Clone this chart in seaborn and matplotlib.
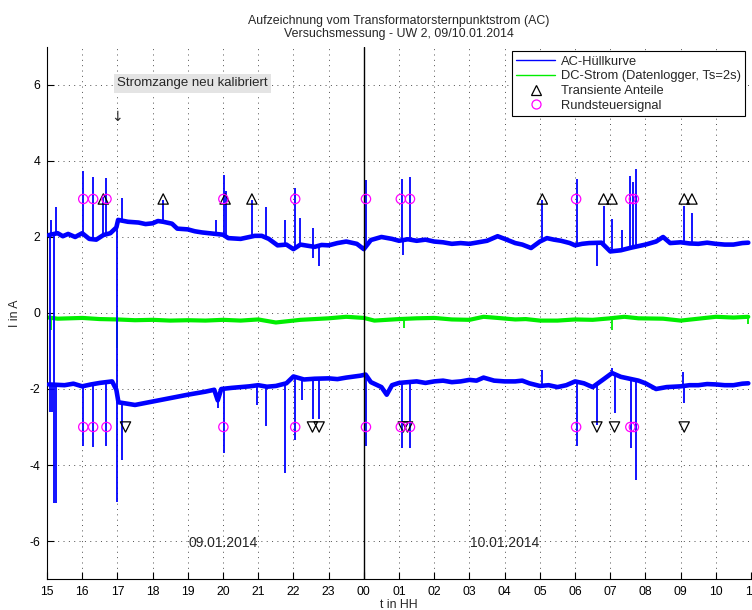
import numpy as np
import pandas as pd
import matplotlib
matplotlib.use("Agg")
import matplotlib.pyplot as plt
from matplotlib.lines import Line2D
import seaborn as sns

# --- time axis: hours since 09.01.2014 00:00 (24 = midnight) ---
tick_hours = list(range(15, 36))
tick_labels = ["15", "16", "17", "18", "19", "20", "21", "22", "23", "00",
               "01", "02", "03", "04", "05", "06", "07", "08", "09", "10", "11"]
midnight = 24.0

# AC envelope, upper branch (baseline samples)
upper_t = [15.05, 15.3, 15.45, 15.6, 15.8, 16.0, 16.2, 16.4, 16.6, 16.8, 16.97, 17.02,
           17.3, 17.6, 17.8, 18.0, 18.15, 18.3, 18.55, 18.7, 19.0, 19.2, 19.4, 19.6,
           19.8, 20.0, 20.15, 20.5, 20.7, 20.9, 21.1, 21.3, 21.55, 21.8, 22.0, 22.2,
           22.4, 22.6, 22.8, 23.0, 23.25, 23.5, 23.8, 24.0, 24.2, 24.5, 24.8, 25.0,
           25.25, 25.5, 25.75, 26.0, 26.25, 26.5, 26.75, 27.0, 27.25, 27.5, 27.8,
           28.0, 28.3, 28.5, 28.75, 29.0, 29.2, 29.4, 29.6, 29.85, 30.0, 30.2, 30.4,
           30.75, 31.0, 31.3, 31.6, 31.8, 32.0, 32.3, 32.5, 32.7, 33.0, 33.25, 33.5,
           33.75, 34.0, 34.25, 34.5, 34.75, 34.92]
upper_v = [2.05, 2.1, 2.02, 2.08, 2.0, 2.1, 1.95, 1.93, 2.05, 2.1, 2.25, 2.45,
           2.4, 2.38, 2.34, 2.36, 2.42, 2.4, 2.35, 2.22, 2.2, 2.15, 2.12, 2.1,
           2.08, 2.06, 1.97, 1.95, 1.99, 2.03, 2.03, 1.95, 1.78, 1.8, 1.68, 1.8,
           1.77, 1.74, 1.79, 1.78, 1.84, 1.88, 1.82, 1.68, 1.92, 2.0, 1.95, 1.9,
           1.94, 1.9, 1.93, 1.88, 1.86, 1.82, 1.84, 1.82, 1.86, 1.9, 2.02,
           1.95, 1.84, 1.8, 1.71, 1.88, 1.97, 1.93, 1.9, 1.84, 1.78, 1.82, 1.84,
           1.85, 1.62, 1.65, 1.72, 1.76, 1.8, 1.88, 2.0, 1.84, 1.86, 1.83, 1.82,
           1.85, 1.82, 1.8, 1.8, 1.84, 1.85]

# AC envelope, lower branch
lower_t = [15.05, 15.5, 15.75, 16.0, 16.25, 16.5, 16.85, 16.97, 17.03, 17.5, 18.0,
           18.5, 19.0, 19.5, 19.75, 19.85, 19.95, 20.25, 20.5, 20.75, 21.0, 21.25,
           21.5, 21.8, 22.0, 22.3, 22.6, 23.0, 23.25, 23.5, 23.9, 24.05, 24.2, 24.5,
           24.65, 24.8, 25.0, 25.25, 25.5, 25.75, 26.0, 26.25, 26.5, 26.75, 27.0,
           27.2, 27.4, 27.7, 28.0, 28.3, 28.5, 28.7, 29.0, 29.25, 29.5, 29.75, 30.0,
           30.25, 30.5, 30.8, 31.05, 31.3, 31.6, 31.8, 32.0, 32.3, 32.6, 33.0, 33.25,
           33.5, 33.75, 34.0, 34.25, 34.5, 34.75, 34.92]
lower_v = [-1.88, -1.9, -1.86, -1.93, -1.88, -1.84, -1.8, -2.02, -2.35, -2.42, -2.33,
           -2.24, -2.15, -2.07, -2.02, -2.3, -2.0, -1.97, -1.95, -1.93, -1.9, -1.94,
           -1.92, -1.85, -1.67, -1.75, -1.73, -1.72, -1.74, -1.7, -1.65, -1.62, -1.82,
           -1.95, -2.15, -1.9, -1.84, -1.82, -1.8, -1.84, -1.8, -1.78, -1.82, -1.8,
           -1.76, -1.78, -1.7, -1.78, -1.8, -1.8, -1.78, -1.85, -1.92, -1.9, -1.95,
           -1.9, -1.8, -1.85, -1.95, -1.75, -1.58, -1.68, -1.74, -1.78, -1.85, -2.0,
           -1.95, -1.93, -1.9, -1.9, -1.87, -1.88, -1.9, -1.9, -1.86, -1.85]

# DC current (data logger, Ts = 2 s)
dc_t = [15.05, 15.3, 16.0, 16.5, 17.0, 17.5, 18.0, 18.5, 19.0, 19.5, 20.0, 20.5,
        21.0, 21.5, 21.8, 22.2, 23.0, 23.5, 24.0, 24.3, 25.0, 25.5, 26.0, 26.5,
        27.0, 27.4, 27.8, 28.3, 28.6, 29.0, 29.5, 30.0, 30.5, 31.0, 31.4, 31.8,
        32.5, 33.0, 33.5, 34.0, 34.5, 34.92]
dc_v = [-0.12, -0.15, -0.13, -0.16, -0.17, -0.19, -0.18, -0.2, -0.19, -0.2, -0.18, -0.2,
        -0.17, -0.25, -0.22, -0.18, -0.14, -0.1, -0.13, -0.2, -0.16, -0.14, -0.13, -0.17,
        -0.18, -0.1, -0.13, -0.17, -0.16, -0.2, -0.2, -0.17, -0.18, -0.14, -0.1, -0.14,
        -0.15, -0.2, -0.15, -0.1, -0.12, -0.1]

# short excursions of the signals (time, extreme value)
upper_spike_t = [15.1, 15.25, 16.03, 16.31, 16.6, 16.69, 17.14, 18.3, 19.8, 20.04, 20.08,
                 20.82, 21.23, 21.76, 22.05, 22.19, 22.55, 24.05, 25.07, 25.31, 29.07,
                 30.05, 30.81, 31.05, 31.33, 31.57, 31.64, 31.73, 33.1, 33.31,
                 15.08, 15.2, 16.98, 22.55, 22.73, 25.1, 30.62]
upper_spike_v = [2.45, 2.8, 3.73, 3.58, 3.05, 3.55, 3.03, 2.98, 2.46, 3.64, 3.2,
                 2.98, 2.79, 2.44, 3.29, 2.5, 2.24, 3.5, 3.53, 3.58, 2.98,
                 3.53, 2.81, 2.47, 2.19, 3.61, 3.46, 3.79, 2.81, 2.63,
                 -2.6, -5.0, -4.97, 1.45, 1.23, 1.53, 1.23]
lower_spike_t = [15.15, 15.25, 16.03, 16.31, 16.67, 17.14, 19.85, 20.03, 20.96, 21.23,
                 21.76, 22.05, 22.24, 22.55, 22.73, 24.05, 25.07, 25.31, 30.05, 30.62,
                 31.14, 31.6, 31.73, 33.1, 29.07, 31.05, 33.07]
lower_spike_v = [-2.6, -5.0, -3.5, -3.53, -3.49, -3.86, -2.5, -3.68, -2.41, -2.98,
                 -4.2, -3.33, -2.28, -2.79, -2.79, -3.49, -3.55, -3.55, -3.5, -2.94,
                 -2.63, -3.55, -4.4, -2.37, -1.49, -1.45, -1.55]
dc_spike_t = [15.12, 16.98, 25.15, 31.05, 34.9]
dc_spike_v = [-0.45, -0.92, -0.4, -0.45, -0.3]

# event markers
transient_up_t = [16.6, 18.3, 20.06, 20.82, 29.07, 30.81, 31.05, 33.1, 33.32]
transient_dn_t = [17.23, 22.54, 22.73, 25.12, 25.24, 30.62, 31.12, 33.1]
ripple_t = [16.03, 16.31, 16.69, 20.01, 22.05, 24.06, 25.05, 25.31, 30.03, 31.57, 31.67]
marker_level = 3.0

BLUE = "#0000ff"
GREEN = "#00ee00"
MAGENTA = "#ff00ff"

sns.set_theme(style="white")
plt.rcParams["font.family"] = ["Liberation Sans", "DejaVu Sans"]

fig = plt.figure(figsize=(7.52, 6.10), dpi=100)
ax = fig.add_axes([0.0625, 0.0508, 0.9363, 0.8722])

upper_df = pd.DataFrame({"t": upper_t, "I": upper_v})
lower_df = pd.DataFrame({"t": lower_t, "I": lower_v})
dc_df = pd.DataFrame({"t": dc_t, "I": dc_v})

# spikes of the envelope, drawn from the baseline to the extreme value
ax.vlines(upper_spike_t, np.interp(upper_spike_t, upper_t, upper_v), upper_spike_v,
          color=BLUE, lw=1.3, zorder=3)
ax.vlines(lower_spike_t, np.interp(lower_spike_t, lower_t, lower_v), lower_spike_v,
          color=BLUE, lw=1.3, zorder=3)

sns.lineplot(data=upper_df, x="t", y="I", ax=ax, color=BLUE, lw=3.3, zorder=3,
             estimator=None)
sns.lineplot(data=lower_df, x="t", y="I", ax=ax, color=BLUE, lw=3.3, zorder=3,
             estimator=None)
sns.lineplot(data=dc_df, x="t", y="I", ax=ax, color=GREEN, lw=3.0, zorder=2,
             estimator=None)
ax.vlines(dc_spike_t, np.interp(dc_spike_t, dc_t, dc_v), dc_spike_v,
          color=GREEN, lw=1.3, zorder=2)

# event markers on both half-waves
for lvl, mk, times in [(marker_level, "^", transient_up_t),
                       (-marker_level, "v", transient_dn_t)]:
    sns.scatterplot(x=times, y=[lvl] * len(times), ax=ax, marker=mk, s=55,
                    facecolor="none", edgecolor="black", linewidth=0.9, zorder=5)
for lvl in (marker_level, -marker_level):
    sns.scatterplot(x=ripple_t, y=[lvl] * len(ripple_t), ax=ax, marker="o", s=45,
                    facecolor="none", edgecolor=MAGENTA, linewidth=0.9, zorder=5)

ax.axvline(midnight, color="black", lw=1.0, zorder=4)

# axes styling
ax.set_xlim(15, 35)
ax.set_ylim(-7, 7)
ax.set_xticks(tick_hours)
ax.set_xticklabels(tick_labels)
ax.set_yticks([-6, -4, -2, 0, 2, 4, 6])
ax.set_yticklabels(["-6", "-4", "-2", "0", "2", "4", "6"])
ax.tick_params(direction="in", length=5, width=0.8, labelsize=8.8, colors="black",
               bottom=True, left=True, pad=5)
for side in ("top", "right"):
    ax.spines[side].set_visible(False)
for side in ("left", "bottom"):
    ax.spines[side].set_color("black")
    ax.spines[side].set_linewidth(0.8)
ax.grid(True, color="0.3", lw=0.7, linestyle=(0, (1, 4.5)))
ax.set_axisbelow(True)

ax.set_xlabel("t in HH", fontsize=8.8, labelpad=1)
ax.set_ylabel("I in A", fontsize=8.8, labelpad=6)
ax.set_title("Aufzeichnung vom Transformatorsternpunktstrom (AC)\n"
             "Versuchsmessung - UW 2, 09/10.01.2014", fontsize=8.9, pad=7,
             linespacing=1.1)

ax.text(17.0, 6.05, "Stromzange neu kalibriert", fontsize=9.5, va="center", ha="left",
        bbox=dict(facecolor="#e4e4e4", edgecolor="none", pad=2.5))
ax.text(17.0, 5.15, "\u2193", fontsize=10, va="center", ha="center",
        family=["DejaVu Sans"])
ax.text(20.0, -6.05, "09.01.2014", fontsize=10, ha="center", va="center")
ax.text(28.0, -6.05, "10.01.2014", fontsize=10, ha="center", va="center")

handles = [
    Line2D([], [], color=BLUE, lw=1.0),
    Line2D([], [], color=GREEN, lw=1.0),
    Line2D([], [], color="black", lw=0, marker="^", markerfacecolor="none",
           markersize=7, markeredgewidth=0.9),
    Line2D([], [], color=MAGENTA, lw=0, marker="o", markerfacecolor="none",
           markersize=6.5, markeredgewidth=0.9),
]
labels = ["AC-Hüllkurve", "DC-Strom (Datenlogger, Ts=2s)", "Transiente Anteile",
          "Rundsteuersignal"]
leg = ax.legend(handles, labels, loc="upper right", bbox_to_anchor=(0.992, 0.992),
                borderaxespad=0, fontsize=9.3, frameon=True, fancybox=False,
                handlelength=3.0, handletextpad=0.45, borderpad=0.35,
                labelspacing=0.2)
leg.get_frame().set_edgecolor("black")
leg.get_frame().set_linewidth(0.8)
leg.get_frame().set_facecolor("white")
leg.get_frame().set_alpha(1.0)
leg.set_zorder(10)

fig.savefig("out.png", dpi=100)
